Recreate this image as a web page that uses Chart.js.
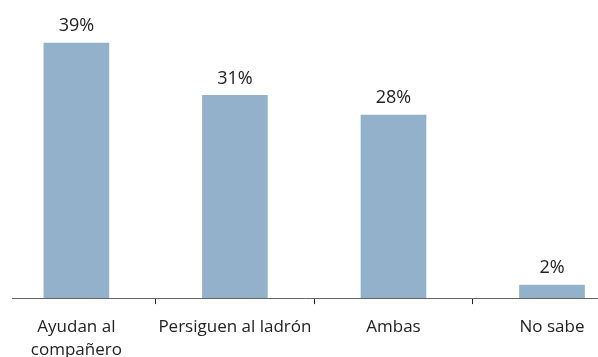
<!DOCTYPE html>
<html>
<head>
<meta charset="utf-8">
<script src="https://cdn.jsdelivr.net/npm/chart.js@4"></script>
<style>
  html, body { margin: 0; padding: 0; background: #fff; overflow: hidden; }
  #wrap { width: 598px; height: 357px; }
</style>
</head>
<body>
<div id="wrap"><canvas id="myChart"></canvas></div>
<script>
// answers and share of respondents (%)
var categories = [["Ayudan al", "compañero"], "Persiguen al ladrón", "Ambas", "No sabe"];
var shares = [39, 31, 28, 2];
var valueLabels = ["39%", "31%", "28%", "2%"];

var FONT = "'Open Sans', 'Noto Sans', sans-serif";

// percentage over each bar
var valueLabelPlugin = {
    id: "valueLabels",
    afterDatasetsDraw: function (chart) {
        var ctx = chart.ctx;
        var meta = chart.getDatasetMeta(0);
        ctx.save();
        ctx.font = "18px " + FONT;
        ctx.fillStyle = "#222";
        ctx.textAlign = "center";
        ctx.textBaseline = "bottom";
        meta.data.forEach(function (bar, i) {
            ctx.fillText(valueLabels[i], bar.x, bar.y - 8);
        });
        ctx.restore();
    }
};

var ctx = document.getElementById("myChart").getContext("2d");

var myChart = new Chart(ctx, {
    type: "bar",
    data: {
        datasets: [
            {
                data: shares.map(function (v, i) { return { x: i, y: v }; }),
                backgroundColor: "#93b1cb",
                barThickness: 65,
                borderWidth: 0
            }
        ]
    },
    options: {
        responsive: true,
        maintainAspectRatio: false,
        animation: false,
        layout: { padding: { left: 12, right: 0, top: 0, bottom: -17 } },
        plugins: {
            legend: { display: false },
            tooltip: { enabled: false }
        },
        scales: {
            x: {
                type: "linear",
                offset: false,
                min: -0.406,
                max: 3.29,
                afterBuildTicks: function (axis) {
                    axis.ticks = [0, 0.5, 1, 1.5, 2, 2.5, 3].map(function (v) { return { value: v }; });
                },
                grid: {
                    offset: false,
                    drawOnChartArea: false,
                    drawTicks: true,
                    tickLength: 6,
                    color: function (c) {
                        return c.tick && c.tick.value % 1 !== 0 ? "#222" : "rgba(0,0,0,0)";
                    }
                },
                border: { display: true, color: "#666", width: 1 },
                ticks: {
                    autoSkip: false,
                    maxRotation: 0,
                    padding: 12,
                    color: "#222",
                    font: { family: FONT, size: 17, lineHeight: 1.35 },
                    callback: function (value) {
                        return value % 1 === 0 ? categories[value] : "";
                    }
                }
            },
            y: {
                display: false,
                min: 0,
                max: 45.6
            }
        }
    },
    plugins: [valueLabelPlugin]
});
</script>
</body>
</html>
